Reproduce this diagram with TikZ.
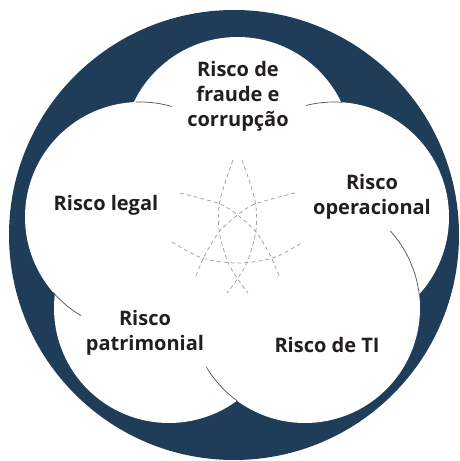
\documentclass[tikz,border=0pt]{standalone}
\usepackage{fontspec}
\setmainfont{Open Sans}
\definecolor{riskblue}{HTML}{1F3D59}
\definecolor{rimgray}{HTML}{505050}
\definecolor{webgray}{HTML}{9C9C9C}
\definecolor{inkblack}{HTML}{231F20}

\begin{document}
\begin{tikzpicture}[x=1pt, y=1pt,
    risk/.style={circle, fill=white, minimum size=230pt, inner sep=0pt, outer sep=0pt},
    rim/.style={draw=rimgray, line width=0.7pt},
    web/.style={draw=webgray, line width=0.7pt, dash pattern=on 4pt off 3pt},
    tag/.style={align=center, text=inkblack, inner sep=0pt,
        font=\bfseries\fontsize{20}{25}\selectfont}]
    \useasboundingbox (0,0) rectangle (459,461);

    \node[circle, fill=riskblue, minimum size=450pt, inner sep=0pt] (outer) at (234,226) {};

    \node[risk] (fraude) at (237.5,309) {};
    \node[risk] (legal) at (140,244) {};
    \node[risk] (oper) at (334,244) {};
    \node[risk] (patri) at (169,153) {};
    \node[risk] (ti) at (305,153) {};

    \draw[rim] (legal.92) arc[start angle=92, end angle=74, radius=115];
    \draw[rim] (oper.86) arc[start angle=86, end angle=104, radius=115];
    \draw[rim] (ti.7) arc[start angle=7, end angle=42, radius=115];
    \draw[rim] (legal.221) arc[start angle=221, end angle=239, radius=115];
    \draw[rim] (ti.234) arc[start angle=234, end angle=211, radius=115];

    % dashed web in the middle
    \draw[web] plot[smooth] coordinates {(180,268) (220,257) (240,244) (256,229) (270,206) (280,183)};
    \draw[web] plot[smooth] coordinates {(295,268) (255,257) (235,244) (219,229) (205,206) (195,183)};
    \draw[web] plot[smooth] coordinates {(172,219) (202,203) (237,198) (273,203) (303,219)};
    \draw[web] plot[smooth] coordinates {(233,301) (220,261) (219,231) (227,201) (237,183) (248,168)};
    \draw[web] plot[smooth] coordinates {(242,301) (255,261) (256,231) (248,201) (238,183) (227,168)};

    \node[tag] (fraudetxt) at (238,365) {Risco de\\fraude e\\corrupção};
    \node[tag] (legaltxt) at (106,256) {Risco legal};
    \node[tag] (opertxt) at (372,264) {Risco\\operacional};
    \node[tag] (patritxt) at (145,128) {Risco\\patrimonial};
    \node[tag] (titxt) at (327,116) {Risco de TI};
\end{tikzpicture}
\end{document}
